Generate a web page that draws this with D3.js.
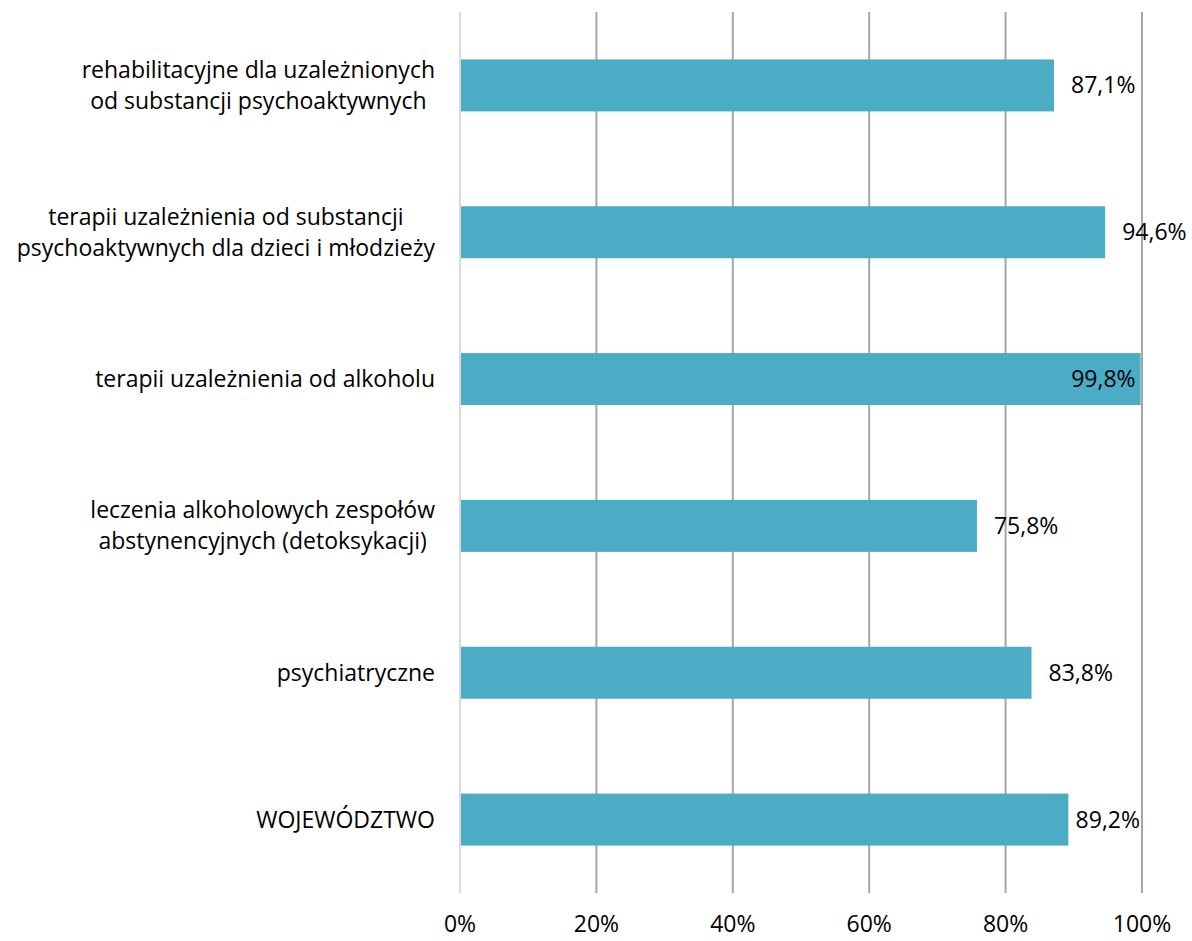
<!DOCTYPE html>
<html><head><meta charset="utf-8">
<script src="https://cdn.jsdelivr.net/npm/d3@7"></script>
<style>body{margin:0;background:#fff}svg{display:block}text{font-family:"Open Sans",sans-serif;fill:#000}</style>
</head><body>
<script>
const categories = [
  ["rehabilitacyjne dla uzależnionych","od substancji psychoaktywnych"],
  ["terapii uzależnienia od substancji","psychoaktywnych dla dzieci i młodzieży"],
  ["terapii uzależnienia od alkoholu"],
  ["leczenia alkoholowych zespołów","abstynencyjnych (detoksykacji)"],
  ["psychiatryczne"],
  ["WOJEWÓDZTWO"]
];
const values = [0.871, 0.946, 0.998, 0.758, 0.838, 0.892];
const valueLabels = ["87,1%","94,6%","99,8%","75,8%","83,8%","89,2%"];
const ticks = [0, 0.2, 0.4, 0.6, 0.8, 1.0];
const tickLabels = ["0%","20%","40%","60%","80%","100%"];

const W = 1192, H = 941;
const m = {left: 460, right: 50, top: 12, bottom: 48};
const FS = 23;
const svg = d3.select("body").append("svg").attr("width", W).attr("height", H);
const x = d3.scaleLinear().domain([0, 1]).range([m.left, W - m.right]);
const y = d3.scaleBand().domain(d3.range(categories.length)).range([m.top, H - m.bottom]).paddingInner(0.646).paddingOuter(0.323);

// gridlines
svg.append("g").selectAll("line").data(ticks).join("line")
  .attr("x1", d => x(d)).attr("x2", d => x(d))
  .attr("y1", m.top).attr("y2", H - m.bottom)
  .attr("stroke", (d,i) => i === 0 ? "#d9d9d9" : "#a6a6a6").attr("stroke-width", 2);

// bars
svg.append("g").selectAll("rect").data(values).join("rect")
  .attr("x", x(0) + 1).attr("y", (d,i) => y(i))
  .attr("width", d => x(d) - x(0) - 1).attr("height", y.bandwidth())
  .attr("fill", "#4bacc6");

// value labels
svg.append("g").selectAll("text").data(values).join("text")
  .attr("x", (d,i) => d > 0.99 ? x(d) - 5 : (i === 5 ? x(1) - 2 : x(d) + 17))
  .attr("text-anchor", (d,i) => (d > 0.99 || i === 5) ? "end" : "start")
  .attr("y", (d,i) => y(i) + y.bandwidth()/2)
  .attr("dy", "0.35em").attr("font-size", FS)
  .text((d,i) => valueLabels[i]);

// category labels
const cg = svg.append("g");
categories.forEach((lines, i) => {
  const cy = y(i) + y.bandwidth()/2;
  const lh = 31;
  const t = cg.append("text").attr("font-size", FS);
  lines.forEach((ln, j) => {
    t.append("tspan").attr("x", 0).attr("y", cy + (j - (lines.length-1)/2) * lh).attr("dy","0.35em").text(ln);
  });
  const tsp = t.selectAll("tspan").nodes();
  const ws = tsp.map(n => n.getComputedTextLength());
  const maxW = d3.max(ws);
  const right = 435;
  tsp.forEach((n, j) => {
    d3.select(n).attr("x", right - maxW/2).attr("text-anchor", "middle");
  });
});

// x tick labels
svg.append("g").selectAll("text").data(ticks).join("text")
  .attr("x", d => x(d)).attr("y", 924).attr("dy","0.35em")
  .attr("text-anchor","middle").attr("font-size", FS)
  .text((d,i) => tickLabels[i]);
</script>
</body></html>
